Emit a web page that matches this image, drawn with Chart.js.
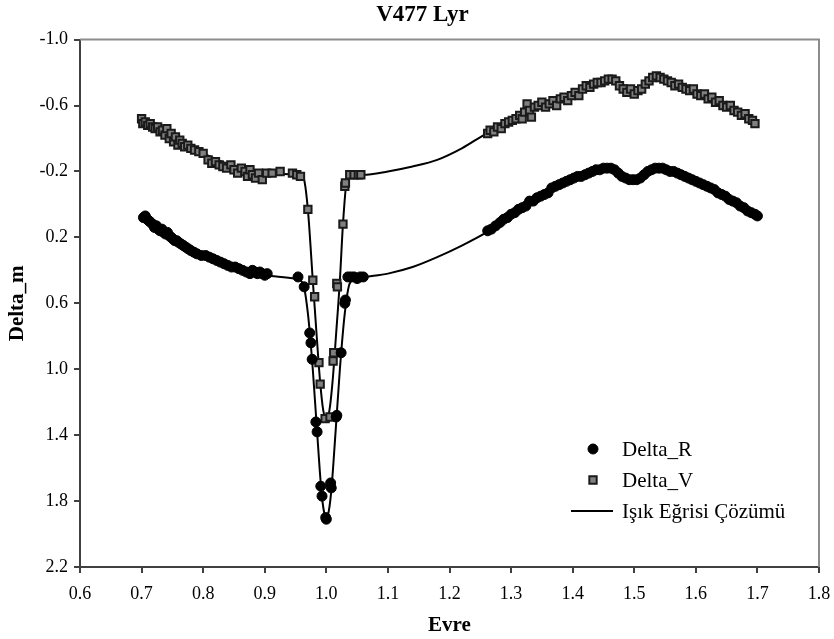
<!DOCTYPE html>
<html>
<head>
<meta charset="utf-8">
<script src="https://cdn.jsdelivr.net/npm/chart.js@4/dist/chart.umd.min.js"></script>
<style>
  body { margin: 0; background: #fff; }
  #wrap { width: 834px; height: 639px; }
</style>
</head>
<body>
<div id="wrap"><canvas id="lightCurve" width="834" height="639"></canvas></div>
<script>
// R band observations (phase, delta mag)
var rPhase = [
  0.703, 0.706, 0.709, 0.712, 0.715, 0.718, 0.721, 0.724, 0.727, 0.730,
  0.733, 0.736, 0.739, 0.742, 0.745, 0.748, 0.751, 0.754, 0.757, 0.760,
  0.764, 0.768, 0.772, 0.776, 0.780, 0.785, 0.790, 0.797, 0.804, 0.810,
  0.816, 0.822, 0.828, 0.834, 0.840, 0.846, 0.852, 0.858, 0.864, 0.870,
  0.876, 0.880, 0.884, 0.888, 0.892, 0.896, 0.900, 0.904, 0.954, 0.964,
  0.973, 0.975, 0.977, 0.983, 0.985, 0.991, 0.993, 0.999, 1.000, 1.007,
  1.008, 1.016, 1.017, 1.024, 1.030, 1.031, 1.035, 1.040, 1.045, 1.050,
  1.055, 1.060,
  1.262, 1.268, 1.275, 1.282, 1.288, 1.294, 1.300, 1.306, 1.312, 1.318,
  1.324, 1.330, 1.336, 1.342, 1.348, 1.354, 1.360, 1.366, 1.372, 1.378,
  1.384, 1.390, 1.396, 1.402, 1.408, 1.414, 1.420, 1.426, 1.432, 1.438,
  1.444, 1.450, 1.456, 1.462, 1.468, 1.474, 1.480, 1.486, 1.492, 1.498,
  1.504, 1.510, 1.516, 1.522, 1.528, 1.534, 1.540, 1.546, 1.552, 1.558,
  1.564, 1.570, 1.576, 1.582, 1.588, 1.594, 1.600, 1.606, 1.612, 1.618,
  1.624, 1.630, 1.636, 1.642, 1.648, 1.654, 1.660, 1.666, 1.672, 1.678,
  1.684, 1.690, 1.696, 1.700
];
var rMag = [
  0.08, 0.07, 0.09, 0.10, 0.11, 0.12, 0.14, 0.13, 0.15, 0.16,
  0.15, 0.17, 0.18, 0.17, 0.19, 0.20, 0.21, 0.22, 0.22, 0.23,
  0.24, 0.25, 0.26, 0.27, 0.28, 0.29, 0.30, 0.31, 0.31, 0.32,
  0.33, 0.34, 0.35, 0.36, 0.37, 0.38, 0.38, 0.39, 0.40, 0.41,
  0.42, 0.40, 0.41, 0.42, 0.41, 0.42, 0.43, 0.42, 0.44, 0.50,
  0.78, 0.84, 0.94, 1.32, 1.38, 1.71, 1.77, 1.90, 1.91, 1.69,
  1.72, 1.29, 1.28, 0.90, 0.60, 0.58, 0.44, 0.44, 0.44, 0.45,
  0.44, 0.44,
  0.16, 0.15, 0.13, 0.11, 0.09, 0.08, 0.06, 0.05, 0.03, 0.02,
  0.01, -0.02, -0.02, -0.04, -0.05, -0.06, -0.07, -0.10, -0.11, -0.12,
  -0.13, -0.14, -0.15, -0.16, -0.17, -0.17, -0.18, -0.19, -0.20, -0.21,
  -0.21, -0.22, -0.22, -0.22, -0.21, -0.19, -0.17, -0.16, -0.15, -0.15,
  -0.15, -0.16, -0.18, -0.20, -0.21, -0.22, -0.22, -0.22, -0.21, -0.20,
  -0.20, -0.19, -0.18, -0.17, -0.16, -0.15, -0.14, -0.13, -0.12, -0.11,
  -0.10, -0.09, -0.07, -0.06, -0.05, -0.03, -0.02, -0.01, 0.01, 0.02,
  0.04, 0.05, 0.06, 0.07
];

// V band observations
var vPhase = [
  0.700, 0.702, 0.706, 0.710, 0.714, 0.718, 0.722, 0.726, 0.730, 0.734,
  0.738, 0.741, 0.745, 0.748, 0.752, 0.755, 0.759, 0.762, 0.766, 0.770,
  0.775, 0.780, 0.786, 0.793, 0.800, 0.808, 0.814, 0.820, 0.826, 0.832,
  0.838, 0.845, 0.850, 0.856, 0.862, 0.868, 0.872, 0.876, 0.880, 0.885,
  0.890, 0.896, 0.903, 0.912, 0.925, 0.945, 0.952, 0.958,
  0.970, 0.978, 0.981, 0.988, 0.990, 0.998, 1.006, 1.011, 1.012, 1.017,
  1.018, 1.027, 1.030, 1.031, 1.038, 1.045, 1.052, 1.056,
  1.262, 1.266, 1.272, 1.278, 1.284, 1.290, 1.296, 1.302, 1.308, 1.314,
  1.318, 1.322, 1.326, 1.330, 1.333, 1.338, 1.344, 1.350, 1.356, 1.362,
  1.368, 1.374, 1.380, 1.386, 1.392, 1.398, 1.404, 1.410, 1.416, 1.422,
  1.428, 1.434, 1.440, 1.446, 1.452, 1.458, 1.464, 1.470, 1.476, 1.482,
  1.488, 1.494, 1.500, 1.506, 1.512, 1.518, 1.524, 1.530, 1.536, 1.542,
  1.548, 1.554, 1.560, 1.566, 1.572, 1.578, 1.584, 1.590, 1.596, 1.602,
  1.608, 1.614, 1.620, 1.626, 1.632, 1.638, 1.644, 1.650, 1.656, 1.662,
  1.668, 1.674, 1.680, 1.686, 1.692, 1.696
];
var vMag = [
  -0.52, -0.49, -0.50, -0.48, -0.49, -0.47, -0.46, -0.47, -0.44, -0.45,
  -0.42, -0.46, -0.40, -0.43, -0.38, -0.41, -0.36, -0.39, -0.37, -0.35,
  -0.36, -0.34, -0.33, -0.32, -0.31, -0.27, -0.25, -0.26, -0.24, -0.23,
  -0.22, -0.24, -0.21, -0.19, -0.22, -0.20, -0.17, -0.21, -0.18, -0.16,
  -0.19, -0.15, -0.19, -0.19, -0.20, -0.19, -0.18, -0.17,
  0.03, 0.46, 0.56, 0.96, 1.09, 1.30, 1.29, 0.95, 0.90, 0.48,
  0.50, 0.12, -0.11, -0.13, -0.18, -0.18, -0.18, -0.18,
  -0.43, -0.45, -0.44, -0.47, -0.46, -0.49, -0.50, -0.51, -0.52, -0.54,
  -0.52, -0.56, -0.61, -0.57, -0.53, -0.59, -0.60, -0.62, -0.59, -0.61,
  -0.63, -0.60, -0.64, -0.65, -0.63, -0.66, -0.68, -0.66, -0.70, -0.72,
  -0.71, -0.73, -0.74, -0.74, -0.75, -0.76, -0.76, -0.75, -0.72, -0.70,
  -0.68, -0.70, -0.67, -0.69, -0.70, -0.73, -0.75, -0.77, -0.78, -0.77,
  -0.76, -0.75, -0.74, -0.72, -0.73, -0.71, -0.70, -0.69, -0.70, -0.67,
  -0.66, -0.67, -0.64, -0.65, -0.62, -0.63, -0.60, -0.59, -0.60, -0.57,
  -0.56, -0.54, -0.55, -0.52, -0.51, -0.49
];

// light curve solution, R then V
var fitRPhase = [0.70, 0.75, 0.80, 0.85, 0.90, 0.95, 0.962, 0.970, 0.978, 0.985, 0.992, 0.996, 1.000,
  1.004, 1.008, 1.015, 1.022, 1.030, 1.038, 1.05, 1.10, 1.14, 1.18, 1.22, 1.26, 1.30, 1.35, 1.40,
  1.45, 1.47, 1.485, 1.50, 1.515, 1.53, 1.55, 1.60, 1.65, 1.70];
var fitRMag = [0.07, 0.20, 0.30, 0.38, 0.43, 0.45, 0.48, 0.66, 1.00, 1.38, 1.74, 1.86, 1.90,
  1.86, 1.74, 1.38, 1.00, 0.66, 0.48, 0.45, 0.42, 0.38, 0.32, 0.25, 0.17, 0.07, -0.05, -0.15,
  -0.21, -0.21, -0.18, -0.15, -0.18, -0.21, -0.22, -0.15, -0.05, 0.07];
var fitVPhase = [0.70, 0.75, 0.80, 0.85, 0.90, 0.955, 0.963, 0.970, 0.978, 0.984, 0.990, 0.995, 1.000,
  1.005, 1.010, 1.016, 1.022, 1.027, 1.033, 1.040, 1.06, 1.10, 1.14, 1.18, 1.22, 1.26, 1.30, 1.35,
  1.40, 1.45, 1.47, 1.485, 1.50, 1.515, 1.53, 1.55, 1.60, 1.65, 1.70];
var fitVMag = [-0.50, -0.40, -0.31, -0.23, -0.19, -0.18, -0.16, 0.03, 0.46, 0.78, 1.08, 1.25, 1.30,
  1.25, 1.08, 0.78, 0.46, 0.12, -0.14, -0.18, -0.18, -0.20, -0.23, -0.27, -0.34, -0.43, -0.50, -0.60,
  -0.67, -0.75, -0.76, -0.72, -0.69, -0.72, -0.77, -0.77, -0.69, -0.60, -0.50];

function pairs(xs, ys) {
  return xs.map(function (x, i) { return { x: x, y: ys[i] }; });
}

// both solution branches in one dataset, split by a gap
var fitData = pairs(fitRPhase, fitRMag)
  .concat([{ x: 1.70, y: null }])
  .concat(pairs(fitVPhase, fitVMag));

var serif = "'Liberation Serif', 'Times New Roman', serif";
Chart.defaults.font.family = serif;
Chart.defaults.color = '#000';

// gray frame on the top and right of the plot
var frame = {
  id: 'frame',
  beforeDatasetsDraw: function (chart) {
    var a = chart.chartArea, ctx = chart.ctx;
    ctx.save();
    ctx.strokeStyle = '#8c8c8c';
    ctx.lineWidth = 2;
    ctx.beginPath();
    ctx.moveTo(a.left, a.top);
    ctx.lineTo(a.right, a.top);
    ctx.lineTo(a.right, a.bottom);
    ctx.stroke();
    ctx.restore();
  }
};

// legend inside the plot, lower right
var insideLegend = {
  id: 'insideLegend',
  afterDraw: function (chart) {
    var a = chart.chartArea, ctx = chart.ctx;
    var ds = chart.data.datasets;
    var mx = a.right - 226, tx = a.right - 197;
    var rows = [a.bottom - 118, a.bottom - 87, a.bottom - 56];
    ctx.save();
    ctx.font = '21px ' + serif;
    ctx.textBaseline = 'middle';
    ctx.fillStyle = '#000';
    for (var i = 0; i < ds.length; i++) {
      var d = ds[i], y = rows[i];
      if (d.showLine) {
        ctx.strokeStyle = d.borderColor;
        ctx.lineWidth = d.borderWidth;
        ctx.beginPath();
        ctx.moveTo(a.right - 248, y);
        ctx.lineTo(a.right - 206, y);
        ctx.stroke();
      } else {
        ctx.fillStyle = d.backgroundColor;
        ctx.strokeStyle = d.borderColor;
        ctx.lineWidth = d.borderWidth;
        Chart.helpers.drawPoint(ctx, {
          pointStyle: d.pointStyle, radius: d.pointRadius, rotation: 0, borderWidth: d.borderWidth
        }, mx, y);
      }
      ctx.fillStyle = '#000';
      ctx.fillText(d.label, tx, y + 1);
    }
    ctx.restore();
  }
};

new Chart('lightCurve', {
  type: 'scatter',
  data: {
    datasets: [{
      label: 'Delta_R',
      data: pairs(rPhase, rMag),
      pointStyle: 'circle',
      pointRadius: 5,
      backgroundColor: '#000',
      borderColor: '#000',
      borderWidth: 1,
      order: 0
    }, {
      label: 'Delta_V',
      data: pairs(vPhase, vMag),
      pointStyle: 'rect',
      pointRadius: 5.2,
      backgroundColor: '#808080',
      borderColor: '#1a1a1a',
      borderWidth: 2,
      order: 1
    }, {
      label: 'Işık Eğrisi Çözümü',
      data: fitData,
      showLine: true,
      spanGaps: false,
      pointRadius: 0,
      borderColor: '#000',
      borderWidth: 2,
      cubicInterpolationMode: 'monotone',
      order: 2
    }]
  },
  options: {
    responsive: false,
    animation: false,
    layout: { padding: { left: 26, right: 15, top: 0, bottom: 0 } },
    plugins: {
      legend: { display: false },
      tooltip: { enabled: false },
      title: {
        display: true,
        text: 'V477 Lyr',
        font: { size: 23, weight: 'bold', family: serif },
        color: '#000',
        padding: { top: 1, bottom: 11 }
      }
    },
    scales: {
      x: {
        type: 'linear',
        min: 0.6,
        max: 1.8,
        afterFit: function (s) {
          s.height = 72;
          s.paddingLeft = 0;
          s.paddingRight = 0;
        },
        border: { color: '#404040', width: 2 },
        grid: { drawOnChartArea: false, drawTicks: true, tickLength: 6, color: '#404040', lineWidth: 2 },
        ticks: {
          stepSize: 0.1,
          padding: 10,
          maxRotation: 0,
          font: { size: 18 },
          color: '#000',
          callback: function (v) { return v.toFixed(1); }
        },
        title: {
          display: true,
          text: 'Evre',
          font: { size: 21, weight: 'bold', family: serif },
          color: '#000',
          padding: { top: 0, bottom: 1 }
        }
      },
      y: {
        min: -1.0,
        max: 2.2,
        reverse: true,
        afterFit: function (s) { s.width = 54; },
        border: { color: '#404040', width: 2 },
        grid: { drawOnChartArea: false, drawTicks: true, tickLength: 6, color: '#404040', lineWidth: 2 },
        ticks: {
          stepSize: 0.4,
          padding: 6,
          font: { size: 18 },
          color: '#000',
          callback: function (v) { return v.toFixed(1); }
        },
        title: {
          display: true,
          text: 'Delta_m',
          font: { size: 21, weight: 'bold', family: serif },
          color: '#000',
          padding: { top: -21, bottom: 0 }
        }
      }
    }
  },
  plugins: [frame, insideLegend]
});
</script>
</body>
</html>
